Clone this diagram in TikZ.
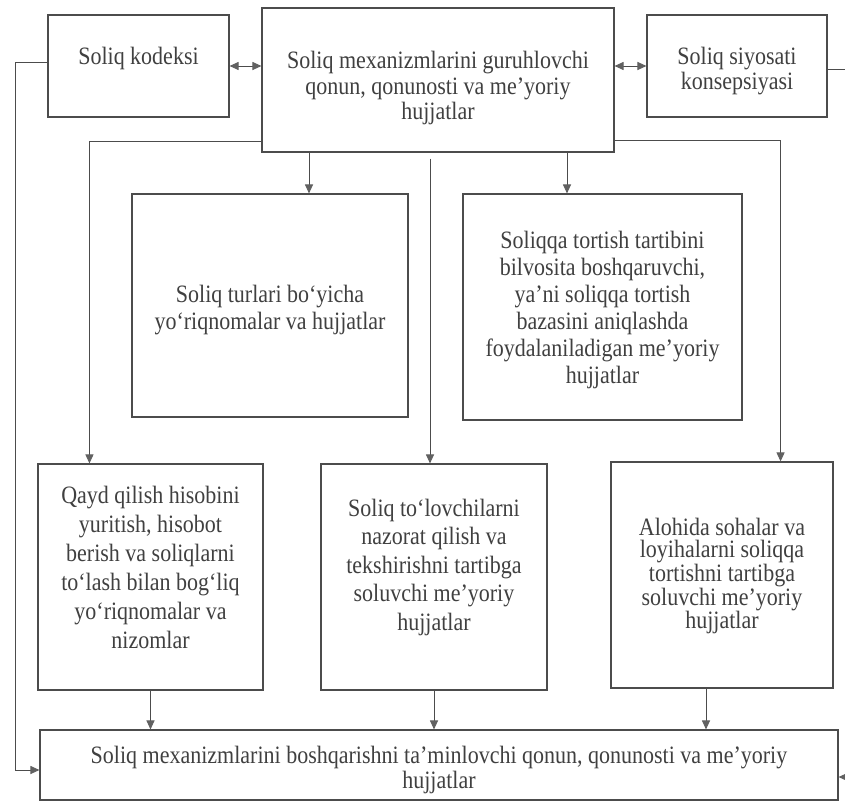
\documentclass[tikz,border=0pt]{standalone}
\usepackage{fontspec}
\setmainfont{Liberation Serif}
\newfontfamily\tallserif[FakeStretch=0.88]{Liberation Serif}
\usetikzlibrary{arrows.meta}
\definecolor{linecol}{gray}{0.3}
\definecolor{tipcol}{gray}{0.38}
\definecolor{textcol}{gray}{0.25}
\begin{document}
\begin{tikzpicture}[x=1pt,y=-1pt,
  box/.style={draw=linecol, line width=1.1pt, inner sep=0pt},
  txt/.style={text=textcol, align=center, inner sep=0pt,
    font=\tallserif\fontsize{25}{#1}\selectfont},
  txt/.default=26,
  conn/.style={draw=linecol, line width=1pt},
  arr/.style={conn, -{Triangle[length=9pt,width=8pt,fill=tipcol,color=tipcol]}},
  arrtwo/.style={conn, {Triangle[length=9pt,width=8pt,fill=tipcol,color=tipcol]}-{Triangle[length=9pt,width=8pt,fill=tipcol,color=tipcol]}}
]
\useasboundingbox (0,0) rectangle (845,803);
\fill[white] (0,0) rectangle (845,803);

% boxes
\node[box, minimum width=181pt, minimum height=102pt] (kodeksi) at (138.5,66) {};
\node[box, minimum width=352pt, minimum height=144pt] (main) at (438,80) {};
\node[box, minimum width=180pt, minimum height=102pt] (siyosati) at (737,66) {};
\node[box, minimum width=276pt, minimum height=223pt] (turlari) at (270,305.5) {};
\node[box, minimum width=279pt, minimum height=226pt] (bilvosita) at (602.5,307) {};
\node[box, minimum width=225pt, minimum height=226pt] (qayd) at (150.5,577) {};
\node[box, minimum width=226pt, minimum height=226pt] (nazorat) at (434,577) {};
\node[box, minimum width=222pt, minimum height=226pt] (alohida) at (722,575) {};
\node[box, minimum width=798pt, minimum height=70pt] (bottom) at (439,765) {};

% texts
\node[txt] (kodeksi-t) at (138.5,58) {Soliq kodeksi};
\node[txt=25.5] (main-t) at (438,88) {Soliq mexanizmlarini guruhlovchi\\qonun, qonunosti va me’yoriy\\hujjatlar};
\node[txt=24.5] (siyosati-t) at (737,71) {Soliq siyosati\\konsepsiyasi};
\node[txt=27] (turlari-t) at (270,310) {Soliq turlari bo‘yicha\\yo‘riqnomalar va hujjatlar};
\node[txt=27] (bilvosita-t) at (602.5,310) {Soliqqa tortish tartibini\\bilvosita boshqaruvchi,\\ya’ni soliqqa tortish\\bazasini aniqlashda\\foydalaniladigan me’yoriy\\hujjatlar};
\node[txt=29] (qayd-t) at (150.5,567) {Qayd qilish hisobini\\yuritish, hisobot\\berish va soliqlarni\\to‘lash bilan bog‘liq\\yo‘riqnomalar va\\nizomlar};
\node[txt=28.5] (nazorat-t) at (434,567) {Soliq to‘lovchilarni\\nazorat qilish va\\tekshirishni tartibga\\soluvchi me’yoriy\\hujjatlar};
\node[txt=22.5] (alohida-t) at (722,576) {Alohida sohalar va\\loyihalarni soliqqa\\tortishni tartibga\\soluvchi me’yoriy\\hujjatlar};
\node[txt=25] (bottom-t) at (439,770) {Soliq mexanizmlarini boshqarishni ta’minlovchi qonun, qonunosti va me’yoriy\\hujjatlar};

% double arrows on top row
\draw[arrtwo] (kodeksi.east) -- (kodeksi.east -| main.west);
\draw[arrtwo] (siyosati.west -| main.east) -- (siyosati.west);

% arrows from main to middle row
\draw[arr] ([xshift=-129pt]main.south) -- ([xshift=-129pt]main.south |- turlari.north);
\draw[arr] ([xshift=129pt]main.south) -- ([xshift=129pt]main.south |- bilvosita.north);

% arrows from main to bottom row
\draw[arr] ([yshift=11pt]main.south west) -| ([xshift=52pt]qayd.north west);
\draw[arr] ([xshift=-8pt,yshift=-6pt]main.south) -- ([xshift=-8pt]main.south |- nazorat.north);
\draw[arr] ([yshift=12pt]main.south east) -| ([xshift=-53pt]alohida.north east);

% arrows from bottom row to final box
\draw[arr] (qayd.south) -- (qayd.south |- bottom.north);
\draw[arr] (nazorat.south) -- (nazorat.south |- bottom.north);
\draw[arr] ([xshift=-16pt]alohida.south) -- ([xshift=-16pt]alohida.south |- bottom.north);

% side feedback lines
\draw[arr] ([yshift=4pt]kodeksi.west) -| ([xshift=-24pt,yshift=-5pt]bottom.west) -- ([yshift=-5pt]bottom.west);
\draw[arr] ([yshift=-3pt]siyosati.east) -| ([xshift=14pt,yshift=-12pt]bottom.east) -- ([yshift=-12pt]bottom.east);
\end{tikzpicture}
\end{document}
